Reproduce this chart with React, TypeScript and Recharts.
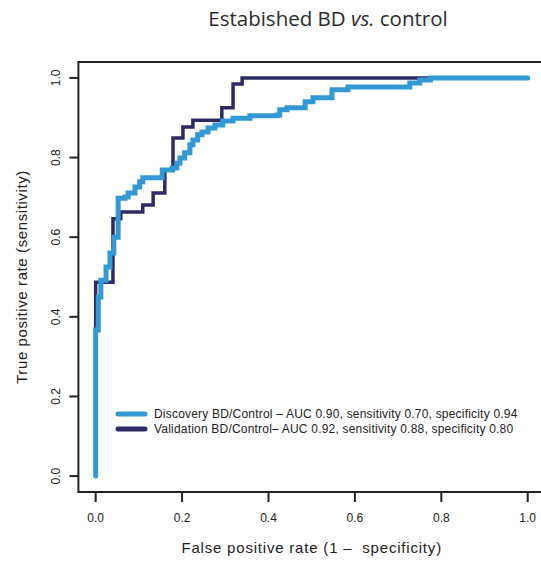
import {
  LineChart,
  Line,
  XAxis,
  YAxis,
  ReferenceArea,
  Legend,
} from "recharts";

// ROC operating points (false positive rate, true positive rate), drawn as steps
const discoveryFpr = [
  0, 0, 0.006, 0.012, 0.024, 0.033, 0.042, 0.052, 0.068, 0.075, 0.091, 0.102,
  0.109, 0.154, 0.177, 0.188, 0.195, 0.206, 0.218, 0.225, 0.236, 0.246, 0.26,
  0.276, 0.294, 0.318, 0.357, 0.42, 0.426, 0.443, 0.485, 0.503, 0.547, 0.584,
  0.727, 0.75, 0.775, 1,
];
const discoveryTpr = [
  0, 0.367, 0.45, 0.492, 0.525, 0.56, 0.6, 0.698, 0.701, 0.711, 0.726, 0.739,
  0.749, 0.769, 0.774, 0.786, 0.799, 0.812, 0.832, 0.844, 0.857, 0.864, 0.874,
  0.882, 0.892, 0.899, 0.905, 0.907, 0.92, 0.925, 0.94, 0.95, 0.97, 0.977,
  0.987, 0.995, 1, 1,
];

const validationFpr = [
  0, 0, 0.04, 0.058, 0.109, 0.133, 0.16, 0.179, 0.202, 0.225, 0.292, 0.318,
  0.339, 1,
];
const validationTpr = [
  0, 0.487, 0.646, 0.663, 0.681, 0.711, 0.769, 0.849, 0.877, 0.894, 0.925,
  0.985, 1, 1,
];

const TICKS = [0, 0.2, 0.4, 0.6, 0.8, 1];

const DISCOVERY_NAME =
  "Discovery BD/Control \u2013 AUC 0.90, sensitivity 0.70, specificity 0.94";
const VALIDATION_NAME =
  "Validation BD/Control\u2013 AUC 0.92, sensitivity 0.88, specificity 0.80";
const LEGEND_ORDER = [DISCOVERY_NAME, VALIDATION_NAME];

const BLUE = "#3399d5";
const NAVY = "#2e2a62";
const INK = "#222";
const FONT = "'Liberation Sans', Arial, sans-serif";

const discoveryData = discoveryFpr.map((fpr, i) => ({ fpr, tpr: discoveryTpr[i] }));
const validationData = validationFpr.map((fpr, i) => ({ fpr, tpr: validationTpr[i] }));

// R-style y tick labels, rotated to run along the axis
function YTick({ x, y, payload }: any) {
  return (
    <text
      x={x}
      y={y}
      dy="0.35em"
      transform={`rotate(-90, ${x}, ${y})`}
      textAnchor="middle"
      fontSize={12}
      fontFamily={FONT}
      fill={INK}
    >
      {Number(payload.value).toFixed(1)}
    </text>
  );
}

function LegendBox({ payload }: any) {
  const rows = [...(payload || [])].sort(
    (a: any, b: any) => LEGEND_ORDER.indexOf(a.value) - LEGEND_ORDER.indexOf(b.value)
  );
  return (
    <svg width={430} height={34} style={{ display: "block" }}>
      {rows.map((item: any, i: number) => (
        <g key={i}>
          <line
            x1={9}
            x2={36}
            y1={10 + i * 15}
            y2={10 + i * 15}
            stroke={item.color}
            strokeWidth={5}
            strokeLinecap="round"
          />
          <text
            x={45}
            y={10 + i * 15}
            dy="0.35em"
            fontSize={12}
            letterSpacing={0.2}
            fontFamily={FONT}
            fill={INK}
          >
            {item.value}
          </text>
        </g>
      ))}
    </svg>
  );
}

export default function App() {
  return (
    <div
      style={{
        position: "absolute",
        left: 0,
        top: 0,
        width: 541,
        height: 563,
        overflow: "hidden",
        background: "#fff",
      }}
    >
      <div
        style={{
          position: "absolute",
          left: 128,
          top: 7,
          width: 400,
          textAlign: "center",
          fontFamily: "'Open Sans', sans-serif",
          fontSize: 20.5,
          lineHeight: "22px",
          color: "#2b2b2b",
        }}
      >
        Estabished BD <i>vs.</i> control
      </div>
      <LineChart
        width={560}
        height={563}
        margin={{ top: 62, right: 15, bottom: 0, left: 0 }}
      >
        <XAxis
          dataKey="fpr"
          type="number"
          domain={[-0.04, 1.04]}
          ticks={TICKS}
          tickFormatter={(v) => v.toFixed(1)}
          axisLine={false}
          tickLine={{ stroke: INK, strokeWidth: 2 }}
          tickSize={10}
          tickMargin={11}
          height={71}
          tick={{ fontSize: 12, fontFamily: FONT, fill: INK }}
          label={{
            value: "False positive rate (1 \u2013\u00a0 specificity)",
            position: "insideBottom",
            offset: 10,
            style: { fontSize: 15, letterSpacing: 0.8, fontFamily: FONT, fill: INK },
          }}
        />
        <YAxis
          dataKey="tpr"
          type="number"
          domain={[-0.04, 1.04]}
          ticks={TICKS}
          axisLine={false}
          tickLine={{ stroke: INK, strokeWidth: 2 }}
          tickSize={9}
          tickMargin={14}
          width={78.4}
          tick={<YTick />}
          label={{
            value: "True positive rate (sensitivity)",
            angle: -90,
            position: "insideLeft",
            offset: 22,
            style: {
              fontSize: 15,
              letterSpacing: 0.6,
              fontFamily: FONT,
              fill: INK,
              textAnchor: "middle",
            },
          }}
        />
        <ReferenceArea
          x1={-0.04}
          x2={1.04}
          y1={-0.04}
          y2={1.04}
          fill="none"
          fillOpacity={0}
          stroke={INK}
          strokeWidth={2}
          ifOverflow="visible"
        />
        <Legend
          layout="horizontal"
          verticalAlign="middle"
          align="center"
          wrapperStyle={{ left: 109, top: 404, width: 430 }}
          content={<LegendBox />}
        />
        <Line
          data={validationData}
          dataKey="tpr"
          name={VALIDATION_NAME}
          type="stepAfter"
          stroke={NAVY}
          strokeWidth={3.5}
          dot={false}
          activeDot={false}
          isAnimationActive={false}
        />
        <Line
          data={discoveryData}
          dataKey="tpr"
          name={DISCOVERY_NAME}
          type="stepAfter"
          stroke={BLUE}
          strokeWidth={5}
          strokeLinecap="round"
          dot={false}
          activeDot={false}
          isAnimationActive={false}
        />
      </LineChart>
    </div>
  );
}
